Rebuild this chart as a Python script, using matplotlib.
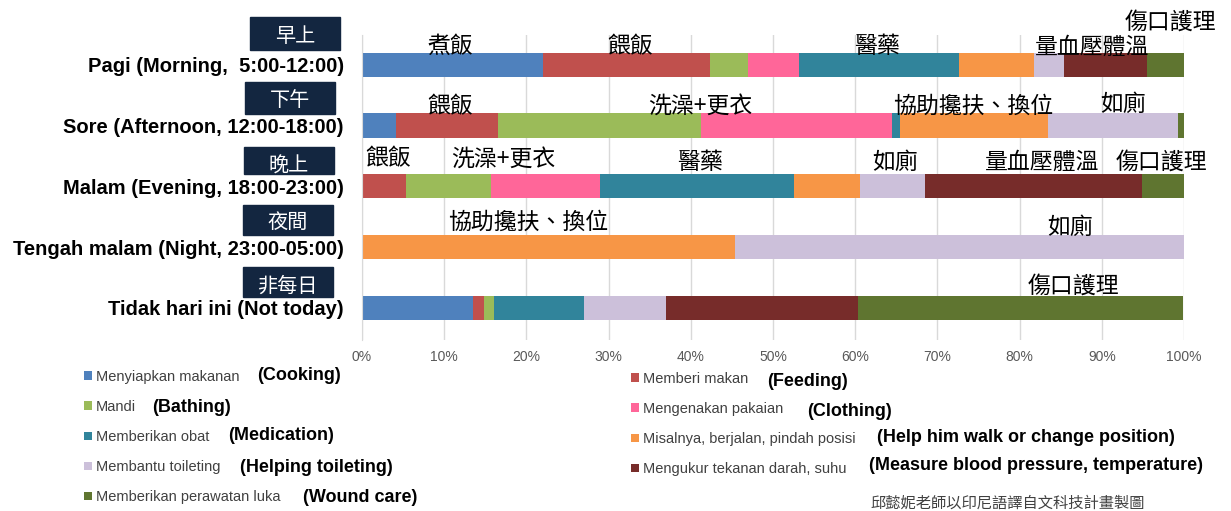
import matplotlib
matplotlib.use("Agg")
import matplotlib.pyplot as plt
from matplotlib.patches import Rectangle
import numpy as np

plt.rcParams['font.family'] = ['Liberation Sans', 'Noto Sans CJK TC', 'DejaVu Sans']
CJK = ['Noto Sans CJK TC', 'DejaVu Sans']

# rows, top to bottom
rows = ["Pagi (Morning,  5:00-12:00)",
        "Sore (Afternoon, 12:00-18:00)",
        "Malam (Evening, 18:00-23:00)",
        "Tengah malam (Night, 23:00-05:00)",
        "Tidak hari ini (Not today)"]
row_tags = ["早上", "下午", "晚上", "夜間", "非每日"]

series = ["Menyiapkan makanan", "Memberi makan", "Mandi", "Mengenakan pakaian",
          "Memberikan obat", "Misalnya, berjalan, pindah posisi",
          "Membantu toileting", "Mengukur tekanan darah, suhu",
          "Memberikan perawatan luka"]
series_en = ["(Cooking)", "(Feeding)", "(Bathing)", "(Clothing)", "(Medication)",
             "(Help him walk or change position)", "(Helping toileting)",
             "(Measure blood pressure, temperature)", "(Wound care)"]
colors = ["#4f81bd", "#c0504d", "#9bbb59", "#ff6699", "#31849b",
          "#f79646", "#ccc0da", "#772c2a", "#5f7530"]

# percent per row for each series
cooking    = [22.0,  4.1,  0.0,  0.0, 13.5]
feeding    = [20.3, 12.4,  5.3,  0.0,  1.3]
bathing    = [ 4.6, 24.8, 10.4,  0.0,  1.2]
clothing   = [ 6.3, 23.2, 13.3,  0.0,  0.0]
medication = [19.4,  0.9, 23.6,  0.0, 11.0]
walking    = [ 9.1, 18.1,  8.0, 45.4,  0.0]
toileting  = [ 3.7, 15.8,  7.9, 54.6, 10.0]
pressure   = [10.1,  0.0, 26.4,  0.0, 23.4]
wound      = [ 4.5,  0.7,  5.1,  0.0, 39.5]
values = [cooking, feeding, bathing, clothing, medication,
          walking, toileting, pressure, wound]

# chinese notes over the bars: (text, x in %, row position)
notes = [("煮飯", 10.7, -0.30), ("餵飯", 32.6, -0.30), ("醫藥", 62.7, -0.30),
         ("量血壓體溫", 88.8, -0.28), ("傷口護理", 98.3, -0.70),
         ("餵飯", 10.7, 0.69), ("洗澡+更衣", 41.1, 0.69),
         ("協助攙扶、換位", 74.3, 0.69), ("如廁", 92.6, 0.66),
         ("餵飯", 3.2, 1.55), ("洗澡+更衣", 17.2, 1.56), ("醫藥", 41.1, 1.61),
         ("如廁", 64.8, 1.61), ("量血壓體溫", 82.7, 1.60), ("傷口護理", 97.3, 1.60),
         ("協助攙扶、換位", 20.2, 2.60), ("如廁", 86.1, 2.68),
         ("傷口護理", 86.5, 3.65)]

W, H = 1231, 511
fig = plt.figure(figsize=(W / 100, H / 100), dpi=100)
ax = fig.add_axes([362 / W, 1 - 340 / H, 822 / W, 305 / H])

y = np.arange(len(rows))
left = np.zeros(len(rows))
bars = []
for name, vals, c in zip(series, values, colors):
    b = ax.barh(y, vals, left=left, height=0.4, color=c, label=name)
    bars.append(b)
    left += np.array(vals)

ax.set_xlim(0, 100)
ax.set_ylim(4.53, -0.49)
ax.set_xticks(np.arange(0, 101, 10))
ax.set_xticklabels([f"{v}%" for v in range(0, 101, 10)], fontsize=10, color="#595959")
ax.set_yticks(y)
ax.set_yticklabels(rows, fontsize=14.5, fontweight="bold")
ax.tick_params(axis="y", length=0, pad=13)
ax.tick_params(axis="x", length=0, pad=7)
ax.grid(axis="x", color="#d9d9d9", lw=1)
ax.set_axisbelow(True)
for s in ["top", "right", "bottom"]:
    ax.spines[s].set_visible(False)
ax.spines["left"].set_color("#d9d9d9")

for txt, xv, yv in notes:
    ax.text(xv, yv, txt, ha="center", va="center", fontsize=16.5, family=CJK)

# dark tag boxes above the row labels
tag_boxes = [(250, 17, 33, 37), (245, 82, 32, 100), (244, 147, 27, 166),
             (243, 205, 30, 222), (243, 267, 30, 286)]
for tag, (bx, by, bh, ty) in zip(row_tags, tag_boxes):
    fig.patches.append(Rectangle((bx / W, 1 - (by + bh) / H), 90 / W, bh / H,
                                 transform=fig.transFigure, color="#132640"))
    fig.text((bx + 45) / W, 1 - ty / H, tag, ha="center", va="center",
             color="white", fontsize=14.5, family=CJK)

# legend in two columns, filled row-wise like the original
hl = dict(frameon=False, fontsize=10.5, handlelength=0.55, handleheight=0.55,
          handletextpad=0.25, labelspacing=1.1, borderpad=0, borderaxespad=0,
          labelcolor="#404040", loc="upper left")
leg1 = fig.legend([bars[i] for i in [0, 2, 4, 6, 8]], [series[i] for i in [0, 2, 4, 6, 8]],
                  bbox_to_anchor=(84 / W, 1 - 370 / H), **hl)
leg2 = fig.legend([bars[i] for i in [1, 3, 5, 7]], [series[i] for i in [1, 3, 5, 7]],
                  bbox_to_anchor=(631 / W, 1 - 372 / H), **hl)

en_pos = [(257, 376), (767, 381), (152, 408), (807, 411), (228, 436),
          (877, 438), (240, 467), (869, 465), (303, 497)]
for txt, (ex, ey) in zip(series_en, en_pos):
    fig.text(ex / W, 1 - ey / H, txt, ha="left", va="center", fontsize=13,
             fontweight="bold")

fig.text(870 / W, 1 - 503 / H, "邱懿妮老師以印尼語譯自文科技計畫製圖", ha="left",
         va="center", fontsize=11, color="#404040", family=CJK)

fig.savefig("out.png", dpi=100)
